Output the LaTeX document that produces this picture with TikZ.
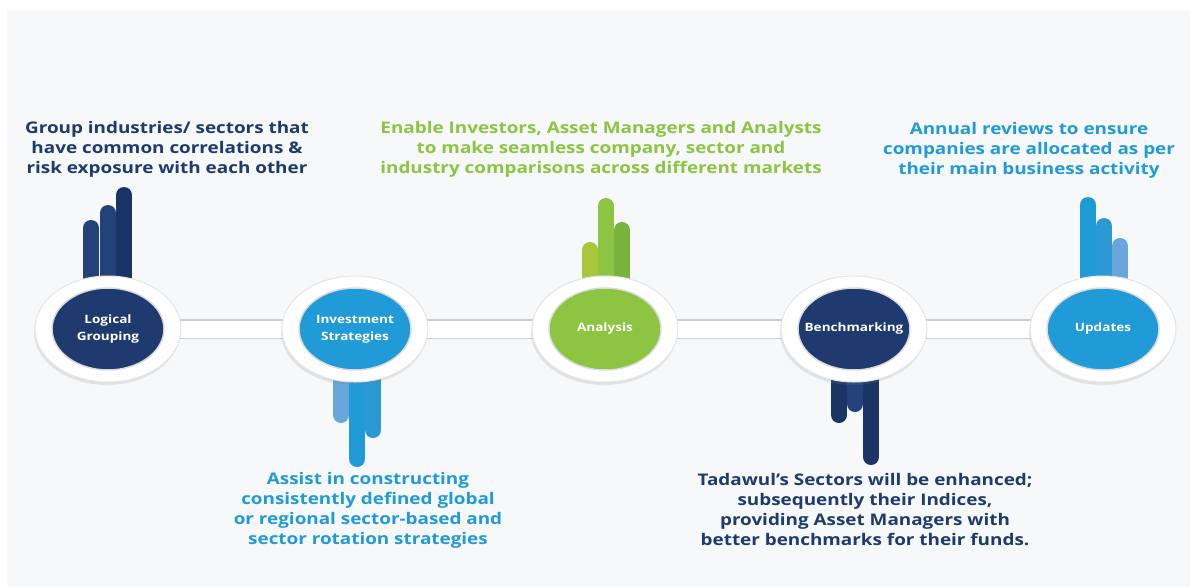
\documentclass[tikz,border=0pt]{standalone}
\usepackage{fontspec}
\setmainfont{Open Sans}[FakeStretch=1.18]
\usetikzlibrary{shapes.geometric, shadows, backgrounds}

\definecolor{pagegrey}{RGB}{246,248,249}
\definecolor{navy}{RGB}{30,58,110}
\definecolor{navyA}{RGB}{36,66,122}
\definecolor{navyB}{RGB}{27,52,102}
\definecolor{skyblue}{RGB}{32,155,216}
\definecolor{skyblueA}{RGB}{44,152,212}
\definecolor{paleblue}{RGB}{105,166,220}
\definecolor{leaf}{RGB}{141,196,66}
\definecolor{leafA}{RGB}{170,198,58}
\definecolor{leafB}{RGB}{122,178,62}

\begin{document}
\begin{tikzpicture}
  [
    x=1pt, y=-1pt,
    ring/.style={ellipse, fill=white, draw=black!10, line width=1pt,
      minimum width=146pt, minimum height=106pt,
      drop shadow={opacity=0.18, shadow xshift=-1pt, shadow yshift=-3pt}},
    hub/.style={ellipse, draw=black!14, line width=1.5pt,
      minimum width=112pt, minimum height=82pt},
    hubtext/.style={text=white, align=center,
      font=\bfseries\fontsize{11.5}{17}\selectfont},
    note/.style={align=center, font=\bfseries\fontsize{16}{20}\selectfont},
    link/.style={draw=black!20, line width=1.4pt, double=white,
      double distance=17pt},
    bar/.style={line width=16pt, line cap=round}
  ]
  % rings and hubs
  \node [ring] (grp-ring) at (108,329) {};
  \node [ring] (inv-ring) at (355,329) {};
  \node [ring] (ana-ring) at (605,329) {};
  \node [ring] (bmk-ring) at (854,329) {};
  \node [ring] (upd-ring) at (1103,329) {};
  \node [hub, fill=navy, label={[hubtext]center:Logical\\Grouping}] (grp) at (grp-ring) {};
  \node [hub, fill=skyblue, label={[hubtext]center:Investment\\Strategies}] (inv) at (inv-ring) {};
  \node [hub, fill=leaf, label={[hubtext]center:Analysis}] (ana) at (ana-ring) {};
  \node [hub, fill=navy, label={[hubtext]center:Benchmarking}] (bmk) at (bmk-ring) {};
  \node [hub, fill=skyblue, label={[hubtext]center:Updates}] (upd) at (upd-ring) {};
  % notes
  \node [note, text=navy] (grp-note) at (167,149)
    {Group industries/ sectors that\\have common correlations \&\\risk exposure with each other};
  \node [note, text=leaf] (ana-note) at (601,149)
    {Enable Investors, Asset Managers and Analysts\\to make seamless company, sector and\\industry comparisons across different markets};
  \node [note, text=skyblue] (upd-note) at (1029,150)
    {Annual reviews to ensure\\companies are allocated as per\\their main business activity};
  \node [note, text=skyblue] (inv-note) at (368,510)
    {Assist in constructing\\consistently defined global\\or regional sector-based and\\sector rotation strategies};
  \node [note, text=navy] (bmk-note) at (865,510)
    {Tadawul's Sectors will be enhanced;\\subsequently their Indices,\\providing Asset Managers with\\better benchmarks for their funds.};
  \begin{scope}[on background layer]
    % page
    \fill [white] (0,0) rectangle (1190,586);
    \fill [pagegrey] (7,10) rectangle (1190,586);
    % links
    \draw [link] (grp-ring.center) -- (inv-ring.center);
    \draw [link] (inv-ring.center) -- (ana-ring.center);
    \draw [link] (ana-ring.center) -- (bmk-ring.center);
    \draw [link] (bmk-ring.center) -- (upd-ring.center);
    % bars up
    \foreach \x/\t/\c in {91/220/navyA,108/205/navyA,124/187/navyB} {
        \draw [bar, \c] (\x,300) -- (\x,\t+8);
    }
    \foreach \x/\t/\c in {590/242/leafA,606/198/leaf,622/222/leafB} {
        \draw [bar, \c] (\x,300) -- (\x,\t+8);
    }
    \foreach \x/\t/\c in {1088/197/skyblue,1104/218/skyblueA,1120/238/paleblue} {
        \draw [bar, \c] (\x,300) -- (\x,\t+8);
    }
    % bars down
    \foreach \x/\b/\c in {341/423/paleblue,373/438/skyblueA,357/467/skyblue} {
        \draw [bar, \c] (\x,360) -- (\x,\b-8);
    }
    \foreach \x/\b/\c in {855/412/navyA,839/423/navyB,871/465/navyB} {
        \draw [bar, \c] (\x,360) -- (\x,\b-8);
    }
  \end{scope}
\end{tikzpicture}
\end{document}
